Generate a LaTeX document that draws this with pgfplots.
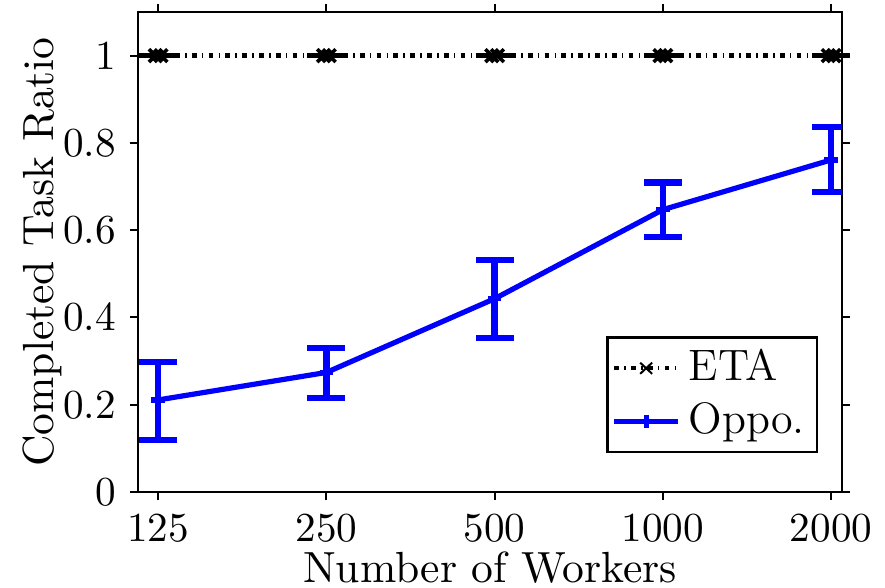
\documentclass[border=0pt]{standalone}
\usepackage{pgfplots}
\pgfplotsset{compat=1.18}

% thick horizontal stub with a cross, as the ETA marks look
\pgfdeclareplotmark{etax}{%
  \pgfsetlinewidth{1.3pt}%
  \pgfpathmoveto{\pgfqpoint{-4.75pt}{0pt}}\pgfpathlineto{\pgfqpoint{4.75pt}{0pt}}%
  \pgfusepathqstroke
  \pgfsetlinewidth{0.9pt}%
  \pgfpathmoveto{\pgfqpoint{-2.3pt}{-1.6pt}}\pgfpathlineto{\pgfqpoint{0.9pt}{1.6pt}}%
  \pgfpathmoveto{\pgfqpoint{-2.3pt}{1.6pt}}\pgfpathlineto{\pgfqpoint{0.9pt}{-1.6pt}}%
  \pgfpathmoveto{\pgfqpoint{-0.9pt}{-1.6pt}}\pgfpathlineto{\pgfqpoint{2.3pt}{1.6pt}}%
  \pgfpathmoveto{\pgfqpoint{-0.9pt}{1.6pt}}\pgfpathlineto{\pgfqpoint{2.3pt}{-1.6pt}}%
  \pgfusepathqstroke
}

\pgfplotstableread{
x y
0 1
1 1
2 1
3 1
4 1
}\etatab

\pgfplotstableread{
x y ep em
0 0.211 0.087 0.092
1 0.274 0.056 0.058
2 0.443 0.089 0.090
3 0.647 0.062 0.062
4 0.761 0.076 0.073
}\oppotab

\pgfplotsset{
  etalegend/.style={legend image code/.code={
    \draw[black, line width=1.1pt, dash pattern=on 1.2pt off 1.3pt on 0.4pt off 1.3pt] (0pt,0pt) -- (16pt,0pt);
    \draw[black, solid, line width=0.5pt] (6.5pt,-1.4pt) -- (9.5pt,1.4pt) (6.5pt,1.4pt) -- (9.5pt,-1.4pt);
  }},
  oppolegend/.style={legend image code/.code={
    \draw[##1, mark repeat=2, mark phase=2] plot coordinates {(0pt,0pt) (8pt,0pt) (16pt,0pt)};
  }},
}

\begin{document}
\begin{tikzpicture}
\begin{axis}[
  scale only axis, width=176pt, height=120pt,
  xmin=-0.12, xmax=4.065, ymin=0, ymax=1.1,
  xtick={0,1,2,3,4}, xticklabels={125,250,500,1000,2000},
  ytick={0,0.2,0.4,0.6,0.8,1}, yticklabels={0,0.2,0.4,0.6,0.8,1},
  tick align=outside, major tick length=2pt,
  tick style={black, line width=0.5pt},
  axis line style={line width=0.6pt},
  tick label style={font=\fontsize{10.3}{12}\selectfont},
  label style={font=\fontsize{10.9}{13}\selectfont},
  xlabel={Number of Workers}, ylabel={Completed Task Ratio},
  xlabel style={yshift=4.5pt}, ylabel style={yshift=-6.5pt},
  clip mode=individual,
  legend cell align=left,
  legend style={at={(axis description cs:0.966,0.081)}, anchor=south east,
    draw=black, line width=0.6pt, inner xsep=1pt, inner ysep=1pt, row sep=0pt,
    font=\fontsize{11}{13}\selectfont},
]
\coordinate (sw) at (rel axis cs:0,0);
\coordinate (ne) at (rel axis cs:1,1);
\addplot[black, line width=1.1pt, dash pattern=on 1.2pt off 1.3pt on 0.4pt off 1.3pt,
  mark=etax, mark options={solid}, etalegend] table[x=x,y=y] {\etatab};
\addlegendentry{ETA}
\addplot[color={rgb,255:red,0;green,0;blue,255}, line width=1.3pt, mark=+, mark size=1.7pt,
  mark options={solid, line width=1.3pt}, oppolegend,
  error bars/.cd, y dir=both, y explicit,
  error bar style={line width=1.6pt},
  error mark options={rotate=90, mark size=4.75pt, line width=1.6pt}]
  table[x=x,y=y,y error plus=ep,y error minus=em] {\oppotab};
\addlegendentry{Oppo.}
\end{axis}
\pgfresetboundingbox
\path[use as bounding box] ([xshift=-34.5pt,yshift=-23.75pt]sw) rectangle ([xshift=10.75pt,yshift=3pt]ne);
\end{tikzpicture}
\end{document}
